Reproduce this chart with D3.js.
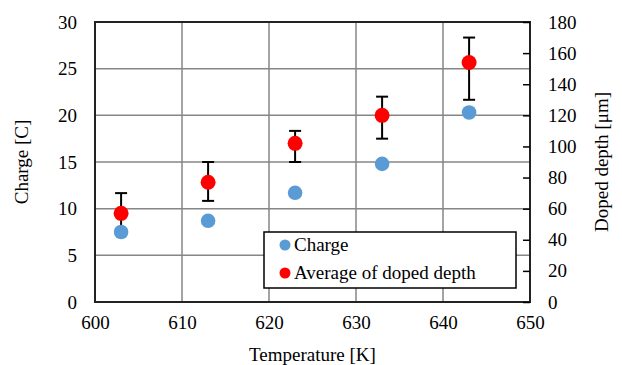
<!DOCTYPE html>
<meta charset="utf-8">
<head>
	<title>Charge and doped depth</title>
</head>
<style>
	body { margin: 0; background: #fff; }
	svg text { font-family: "Liberation Serif", "Times New Roman", serif !important; fill: #000; }
</style>
<body>
<div id="chart"></div>
<script src="https://d3js.org/d3.v7.min.js"></script>
<script>

var temperature = [603, 613, 623, 633, 643];
var charge = [7.5, 8.7, 11.7, 14.8, 20.3];
var depthAvg = [57, 77, 102, 120, 154];
var depthLow = [45, 65, 90, 105, 130];
var depthHigh = [70, 90, 110, 132, 170];

var xTicks = [600, 610, 620, 630, 640, 650];
var yTicks = [0, 5, 10, 15, 20, 25, 30];
var y2Ticks = [0, 20, 40, 60, 80, 100, 120, 140, 160, 180];

var width = 622, height = 365;
var margin = {left: 95, right: 92, top: 22, bottom: 63};
var fs = 19;

var svg = d3.select("#chart").append("svg")
	.attr("width", width)
	.attr("height", height);

var x = d3.scaleLinear().domain([600, 650]).range([margin.left, width - margin.right]);
var y = d3.scaleLinear().domain([0, 30]).range([height - margin.bottom, margin.top]);
var y2 = d3.scaleLinear().domain([0, 180]).range([height - margin.bottom, margin.top]);

// grid
svg.append("g").selectAll("line")
	.data(yTicks.slice(1, -1))
	.join("line")
	.attr("x1", x(600)).attr("x2", x(650))
	.attr("y1", d => y(d)).attr("y2", d => y(d))
	.attr("stroke", "#868686").attr("stroke-width", 1.5);

svg.append("g").selectAll("line")
	.data(xTicks.slice(1, -1))
	.join("line")
	.attr("x1", d => x(d)).attr("x2", d => x(d))
	.attr("y1", y(0)).attr("y2", y(30))
	.attr("stroke", "#868686").attr("stroke-width", 1.5);

// frame
svg.append("rect")
	.attr("x", x(600)).attr("y", y(30))
	.attr("width", x(650) - x(600)).attr("height", y(0) - y(30))
	.attr("fill", "none").attr("stroke", "#222").attr("stroke-width", 2);

// axes
var left = svg.append("g").attr("transform", "translate(" + x(600) + ",0)")
	.call(d3.axisLeft(y).tickValues(yTicks).tickSize(0).tickPadding(18));
left.select(".domain").remove();

var bottom = svg.append("g").attr("transform", "translate(0," + y(0) + ")")
	.call(d3.axisBottom(x).tickValues(xTicks).tickSize(0).tickPadding(14));
bottom.select(".domain").remove();

var right = svg.append("g").attr("transform", "translate(" + x(650) + ",0)")
	.call(d3.axisRight(y2).tickValues(y2Ticks).tickSizeInner(-7).tickSizeOuter(0).tickPadding(18));
right.select(".domain").remove();
right.selectAll("line").attr("stroke", "#000").attr("stroke-width", 1.5);

svg.selectAll(".tick text")
	.attr("font-size", fs)
	.attr("fill", "#000");

// axis titles
svg.append("text")
	.attr("transform", "translate(28," + ((y(0) + y(30)) / 2) + ") rotate(-90)")
	.attr("text-anchor", "middle")
	.attr("font-size", fs)
	.text("Charge [C]");

svg.append("text")
	.attr("transform", "translate(608," + ((y(0) + y(30)) / 2) + ") rotate(-90)")
	.attr("text-anchor", "middle")
	.attr("font-size", fs)
	.text("Doped depth [\u03bcm]");

svg.append("text")
	.attr("x", (x(600) + x(650)) / 2)
	.attr("y", 361)
	.attr("text-anchor", "middle")
	.attr("font-size", fs)
	.text("Temperature [K]");

// error bars
var err = svg.append("g").attr("stroke", "#000").attr("stroke-width", 2);
temperature.forEach(function(t, i) {
	err.append("line")
		.attr("x1", x(t)).attr("x2", x(t))
		.attr("y1", y2(depthLow[i])).attr("y2", y2(depthHigh[i]));
	[depthLow[i], depthHigh[i]].forEach(function(v) {
		err.append("line")
			.attr("x1", x(t) - 6).attr("x2", x(t) + 6)
			.attr("y1", y2(v)).attr("y2", y2(v));
	});
});

// charge points
svg.append("g").selectAll("circle")
	.data(temperature)
	.join("circle")
	.attr("cx", d => x(d))
	.attr("cy", (d, i) => y(charge[i]))
	.attr("r", 7.3)
	.attr("fill", "#5b9bd5");

// depth points
svg.append("g").selectAll("circle")
	.data(temperature)
	.join("circle")
	.attr("cx", d => x(d))
	.attr("cy", (d, i) => y2(depthAvg[i]))
	.attr("r", 7.5)
	.attr("fill", "#ff0000");

// legend
var lg = svg.append("g");
lg.append("rect")
	.attr("x", 264).attr("y", 232).attr("width", 252).attr("height", 56)
	.attr("fill", "#fff").attr("stroke", "#000").attr("stroke-width", 1.5);
var items = [{label: "Charge", color: "#5b9bd5"}, {label: "Average of doped depth", color: "#ff0000"}];
items.forEach(function(it, i) {
	lg.append("circle").attr("cx", 285).attr("cy", 245 + i * 28).attr("r", 5.5).attr("fill", it.color);
	lg.append("text").attr("x", 294).attr("y", 251 + i * 28)
		.attr("font-size", fs).text(it.label);
});

</script>
</body>
</html>
